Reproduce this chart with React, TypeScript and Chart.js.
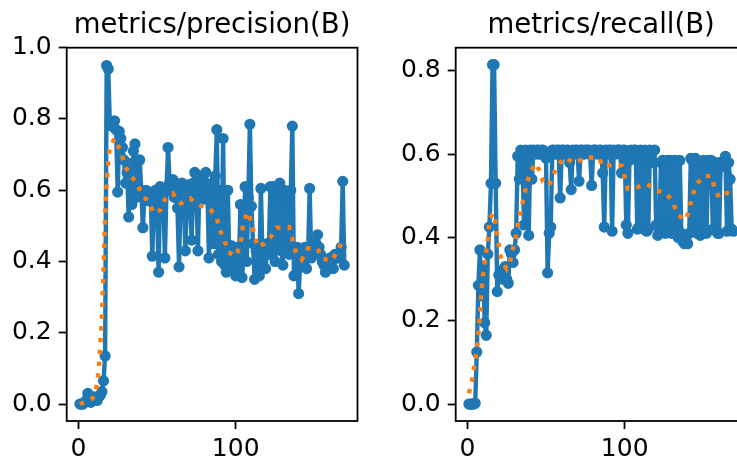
import React, { useEffect, useRef } from 'react';
import { Chart, registerables } from 'chart.js';

Chart.register(...registerables);

// ---- data ----
const precision = [
  0.0, 0.0, 0.0, 0.005, 0.01, 0.03, 0.015, 0.005, 0.01, 0.02,
  0.015, 0.01, 0.02, 0.025, 0.035, 0.065, 0.135,
  0.95, 0.94, 0.79, 0.78, 0.79, 0.795, 0.77, 0.595, 0.765, 0.745, 0.72, 0.685, 0.62,
  0.65, 0.525, 0.675, 0.56, 0.71, 0.73, 0.58, 0.6, 0.685, 0.6,
  0.495, 0.58, 0.6, 0.59, 0.57, 0.59, 0.415, 0.58, 0.6, 0.55,
  0.37, 0.61, 0.58, 0.59, 0.41, 0.6, 0.72, 0.62, 0.6, 0.63,
  0.58, 0.62, 0.55, 0.385, 0.6, 0.62, 0.58, 0.43, 0.6, 0.615,
  0.55, 0.46, 0.62, 0.65, 0.6, 0.43, 0.64, 0.6, 0.62, 0.575,
  0.65, 0.6, 0.41, 0.6, 0.62, 0.45, 0.64, 0.77, 0.42, 0.6,
  0.4, 0.745, 0.39, 0.37, 0.6, 0.38, 0.445, 0.39, 0.42, 0.36,
  0.44, 0.38, 0.56, 0.355, 0.42, 0.61, 0.4, 0.58, 0.785, 0.555,
  0.45, 0.35, 0.43, 0.4, 0.36, 0.605, 0.42, 0.44, 0.38, 0.45,
  0.42, 0.61, 0.44, 0.61, 0.4, 0.45, 0.6, 0.62, 0.43, 0.39,
  0.6, 0.45, 0.58, 0.42, 0.6, 0.78, 0.36, 0.43, 0.44, 0.31,
  0.4, 0.43, 0.41, 0.44, 0.38, 0.42, 0.605, 0.41, 0.44, 0.42,
  0.45, 0.475, 0.44, 0.42, 0.4, 0.39, 0.37, 0.4, 0.38, 0.41,
  0.4, 0.38, 0.42, 0.41, 0.41, 0.42, 0.44, 0.625, 0.39,
];

const recall = [
  0, 0, 0, 0, 0.002, 0.125, 0.285, 0.37, 0.26, 0.33,
  0.195, 0.165, 0.36, 0.425, 0.53, 0.815, 0.815, 0.53, 0.27, 0.31,
  0.32, 0.3, 0.315, 0.33, 0.3, 0.29, 0.37, 0.36, 0.34, 0.37,
  0.41, 0.595, 0.54, 0.61, 0.6, 0.43, 0.61, 0.58, 0.405, 0.61,
  0.54, 0.61, 0.6, 0.61, 0.61, 0.6, 0.61, 0.61, 0.6, 0.59,
  0.315, 0.41, 0.425, 0.61, 0.61, 0.6, 0.61, 0.61, 0.495, 0.61,
  0.61, 0.6, 0.61, 0.61, 0.58, 0.515, 0.61, 0.6, 0.61, 0.61,
  0.535, 0.61, 0.61, 0.6, 0.61, 0.61, 0.61, 0.6, 0.525, 0.61,
  0.61, 0.61, 0.6, 0.61, 0.61, 0.555, 0.425, 0.61, 0.6, 0.61,
  0.61, 0.415, 0.61, 0.6, 0.61, 0.61, 0.61, 0.555, 0.61, 0.61,
  0.43, 0.41, 0.585, 0.61, 0.6, 0.61, 0.61, 0.42, 0.425, 0.61,
  0.6, 0.42, 0.61, 0.415, 0.42, 0.61, 0.6, 0.58, 0.61, 0.43,
  0.405, 0.41, 0.58, 0.585, 0.42, 0.41, 0.585, 0.42, 0.585, 0.41,
  0.43, 0.585, 0.41, 0.4, 0.585, 0.41, 0.39, 0.385, 0.4, 0.385,
  0.41, 0.59, 0.585, 0.42, 0.59, 0.41, 0.58, 0.405, 0.41, 0.585,
  0.58, 0.41, 0.585, 0.58, 0.585, 0.42, 0.57, 0.58, 0.41, 0.41,
  0.58, 0.57, 0.585, 0.595, 0.415, 0.58, 0.54, 0.42, 0.415,
];

const precisionSmoothEpochs = [1, 3, 6, 9, 11, 12, 13, 14, 15, 16, 17, 18, 19, 20, 23, 27, 29, 32, 37, 40, 45, 48, 52, 55, 60, 65, 71, 77, 84, 88, 90, 93, 95, 100, 103, 104, 105, 108, 110, 112, 114, 118, 122, 126, 134, 136, 138, 142, 146, 152, 155, 161, 165, 168, 169];
const precisionSmooth = [0.0, 0.004, 0.01, 0.016, 0.035, 0.06, 0.1, 0.17, 0.245, 0.385, 0.525, 0.62, 0.68, 0.72, 0.745, 0.708, 0.678, 0.647, 0.621, 0.593, 0.563, 0.535, 0.544, 0.574, 0.591, 0.563, 0.577, 0.558, 0.546, 0.521, 0.488, 0.458, 0.427, 0.415, 0.446, 0.481, 0.514, 0.539, 0.507, 0.474, 0.441, 0.45, 0.467, 0.495, 0.497, 0.463, 0.43, 0.406, 0.437, 0.436, 0.409, 0.402, 0.432, 0.458, 0.462];

const recallSmoothEpochs = [1, 3, 4, 6, 7, 8, 9, 10, 12, 13, 14, 16, 17, 18, 20, 21, 22, 25, 27, 29, 31, 32, 34, 36, 37, 39, 40, 42, 43, 46, 48, 52, 54, 57, 62, 68, 75, 83, 87, 93, 98, 100, 102, 108, 114, 120, 127, 131, 134, 139, 141, 143, 145, 150, 155, 157, 160, 165, 169];
const recallSmooth = [0.026, 0.057, 0.081, 0.129, 0.169, 0.217, 0.273, 0.31, 0.369, 0.397, 0.44, 0.458, 0.455, 0.429, 0.38, 0.355, 0.343, 0.325, 0.34, 0.375, 0.405, 0.43, 0.465, 0.5, 0.515, 0.545, 0.553, 0.572, 0.578, 0.56, 0.535, 0.525, 0.545, 0.572, 0.592, 0.578, 0.592, 0.592, 0.569, 0.576, 0.572, 0.545, 0.517, 0.521, 0.529, 0.513, 0.505, 0.48, 0.453, 0.442, 0.469, 0.497, 0.525, 0.547, 0.548, 0.521, 0.496, 0.507, 0.5];

const xTicks = [0, 100];
const precisionTicks = [0, 0.2, 0.4, 0.6, 0.8, 1.0];
const recallTicks = [0, 0.2, 0.4, 0.6, 0.8];
const titles = ['metrics/precision(B)', 'metrics/recall(B)'];

// ---- styling ----
const FONT = "'DejaVu Sans', sans-serif";
const BLUE = '#1f77b4';
const ORANGE = '#ff7f0e';
const H = 457;

const mplPlugin = {
  id: 'mpl',
  afterDatasetsDraw(chart: any) {
    const { ctx, chartArea: a } = chart;
    ctx.save();
    ctx.strokeStyle = '#000';
    ctx.lineWidth = 1.8;
    ctx.strokeRect(a.left, a.top, a.right - a.left, a.bottom - a.top);
    ctx.restore();
  },
  afterDraw(chart: any, _args: any, opts: any) {
    const { ctx, chartArea: a } = chart;
    ctx.save();
    ctx.font = `27.5px ${FONT}`;
    ctx.fillStyle = '#000';
    ctx.textAlign = 'center';
    ctx.textBaseline = 'alphabetic';
    ctx.fillText(opts.text, (a.left + a.right) / 2, 33);
    ctx.restore();
  },
};

function makeConfig(
  values: number[],
  smoothX: number[],
  smoothY: number[],
  yMin: number,
  yMax: number,
  yTicks: number[],
  title: string,
  yWidth: number,
  padRight: number
): any {
  const main = values.map((v, i) => ({ x: i + 1, y: v }));
  const smooth = smoothX.map((x, i) => ({ x, y: smoothY[i] }));
  const grid = {
    display: true,
    drawOnChartArea: false,
    drawTicks: true,
    tickLength: 8,
    tickWidth: 1.8,
    tickColor: '#000',
  };
  return {
    type: 'line',
    data: {
      datasets: [
        {
          label: 'smooth',
          data: smooth,
          borderColor: ORANGE,
          borderWidth: 4.4,
          borderDash: [4.4, 7.4],
          borderCapStyle: 'butt',
          pointRadius: 0,
          fill: false,
          tension: 0,
          order: 1,
        },
        {
          label: 'results',
          data: main,
          borderColor: BLUE,
          backgroundColor: BLUE,
          borderWidth: 4.4,
          borderJoinStyle: 'round',
          borderCapStyle: 'round',
          pointRadius: 4.8,
          pointBorderWidth: 1.6,
          pointBackgroundColor: BLUE,
          pointBorderColor: BLUE,
          fill: false,
          tension: 0,
          order: 2,
        },
      ],
    },
    options: {
      animation: false,
      responsive: false,
      devicePixelRatio: 1,
      layout: { padding: { top: 47.7, right: padRight, left: 0, bottom: 0 } },
      plugins: {
        legend: { display: false },
        tooltip: { enabled: false },
        title: { display: false },
        mpl: { text: title },
      },
      scales: {
        x: {
          type: 'linear',
          min: -7.4,
          max: 177.4,
          afterBuildTicks: (s: any) => {
            s.ticks = xTicks.map((v) => ({ value: v }));
          },
          afterFit: (s: any) => {
            s.height = H - 421;
          },
          grid,
          border: { display: false },
          ticks: {
            color: '#000',
            font: { family: FONT, size: 25 },
            padding: 5,
            maxRotation: 0,
            autoSkip: false,
            callback: (v: any) => String(v),
          },
        },
        y: {
          type: 'linear',
          min: yMin,
          max: yMax,
          afterBuildTicks: (s: any) => {
            s.ticks = yTicks.map((v) => ({ value: v }));
          },
          afterFit: (s: any) => {
            s.width = yWidth;
          },
          grid,
          border: { display: false },
          ticks: {
            color: '#000',
            font: { family: FONT, size: 25 },
            padding: 7,
            autoSkip: false,
            callback: (v: any) => Number(v).toFixed(1),
          },
        },
      },
    },
    plugins: [mplPlugin],
  };
}

function MetricChart(props: { left: number; width: number; config: any }) {
  const ref = useRef<HTMLCanvasElement | null>(null);
  useEffect(() => {
    if (!ref.current) return;
    const chart = new Chart(ref.current, props.config);
    return () => chart.destroy();
  }, []);
  return (
    <canvas
      ref={ref}
      width={props.width}
      height={H}
      style={{ position: 'absolute', left: props.left, top: 0, width: props.width, height: H }}
    />
  );
}

export default function App() {
  const leftCfg = makeConfig(precision, precisionSmoothEpochs, precisionSmooth, -0.0475, 1.0, precisionTicks, titles[0], 66.7, 370 - 357.5);
  const rightCfg = makeConfig(recall, recallSmoothEpochs, recallSmooth, -0.04075, 0.85575, recallTicks, titles[1], 85.7, 390 - (746.5 - 370));
  return (
    <div
      style={{
        position: 'fixed',
        left: 0,
        top: 0,
        width: 737,
        height: H,
        overflow: 'hidden',
        background: '#fff',
      }}
    >
      <MetricChart left={0} width={370} config={leftCfg} />
      <MetricChart left={370} width={390} config={rightCfg} />
    </div>
  );
}
